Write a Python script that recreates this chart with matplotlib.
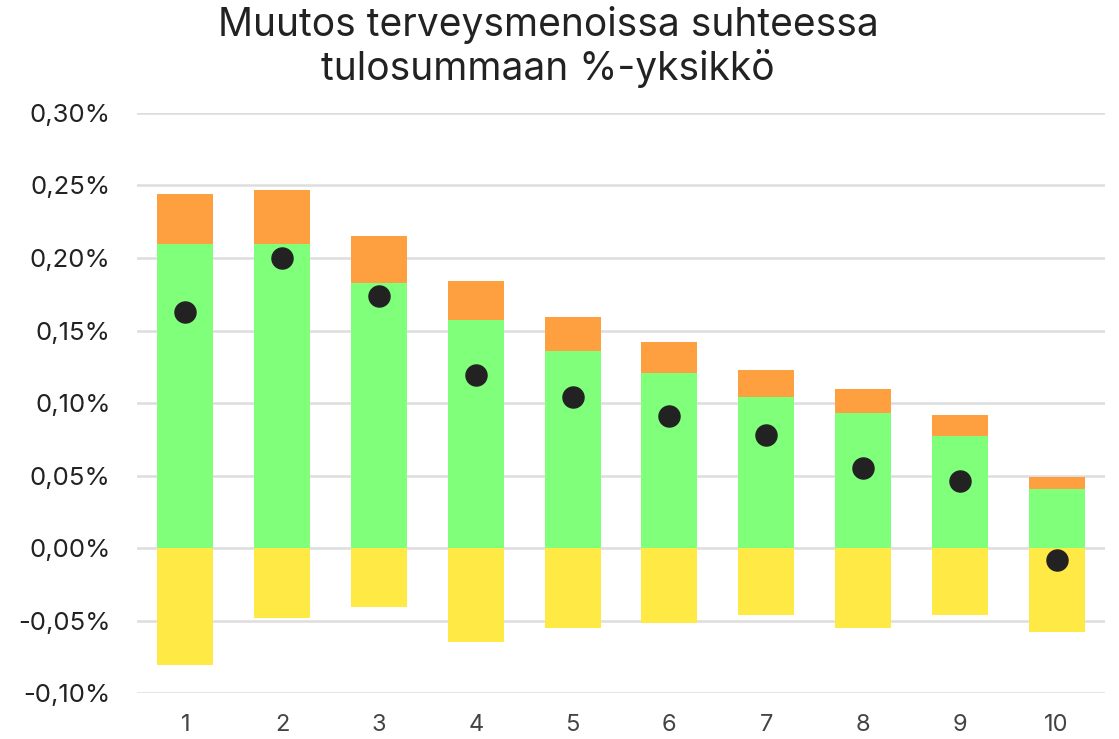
import matplotlib
matplotlib.use("Agg")
import matplotlib.pyplot as plt
from matplotlib.ticker import FuncFormatter

plt.rcParams['font.family'] = ['Inter', 'DejaVu Sans']

# Data (%-units)
deciles = [1, 2, 3, 4, 5, 6, 7, 8, 9, 10]
green = [0.210, 0.210, 0.183, 0.157, 0.136, 0.121, 0.104, 0.093, 0.077, 0.041]
orange = [0.034, 0.037, 0.032, 0.027, 0.023, 0.021, 0.019, 0.017, 0.015, 0.008]
yellow = [-0.081, -0.048, -0.041, -0.065, -0.055, -0.052, -0.046, -0.055, -0.046, -0.058]
net = [0.163, 0.200, 0.174, 0.119, 0.104, 0.091, 0.078, 0.055, 0.046, -0.008]

fig = plt.figure(figsize=(11.19, 7.39), dpi=100)
ax = fig.add_axes([0.1224, 0.0622, 0.8651, 0.7849])

w = 0.58
ax.bar(deciles, green, width=w, color='#80ff7a', zorder=2)
ax.bar(deciles, orange, width=w, bottom=green, color='#ffa040', zorder=2)
ax.bar(deciles, yellow, width=w, color='#ffe945', zorder=2)
ax.scatter(deciles, net, s=230, color='#222222', zorder=3)

ax.set_xlim(0.5, 10.5)
ax.set_ylim(-0.10, 0.30)
ax.set_yticks([-0.10, -0.05, 0.0, 0.05, 0.10, 0.15, 0.20, 0.25, 0.30])
ax.yaxis.set_major_formatter(FuncFormatter(lambda v, p: f"{v:.2f}%".replace('.', ',')))
ax.set_xticks(deciles)
ax.grid(axis='y', color='#dddddd', linewidth=1.8, zorder=0)
ax.set_axisbelow(True)
for s in ax.spines.values():
    s.set_visible(False)
ax.tick_params(axis='both', length=0)
ax.tick_params(axis='y', labelsize=18.5, labelcolor='#222222', pad=19)
ax.tick_params(axis='x', labelsize=17, labelcolor='#444444', pad=15)

fig.text(0.49, 1 - 47 / 739, "Muutos terveysmenoissa suhteessa\ntulosummaan %-yksikkö",
         ha='center', va='center', fontsize=28, color='#222222', linespacing=1.15)

fig.savefig('out.png', dpi=100)
